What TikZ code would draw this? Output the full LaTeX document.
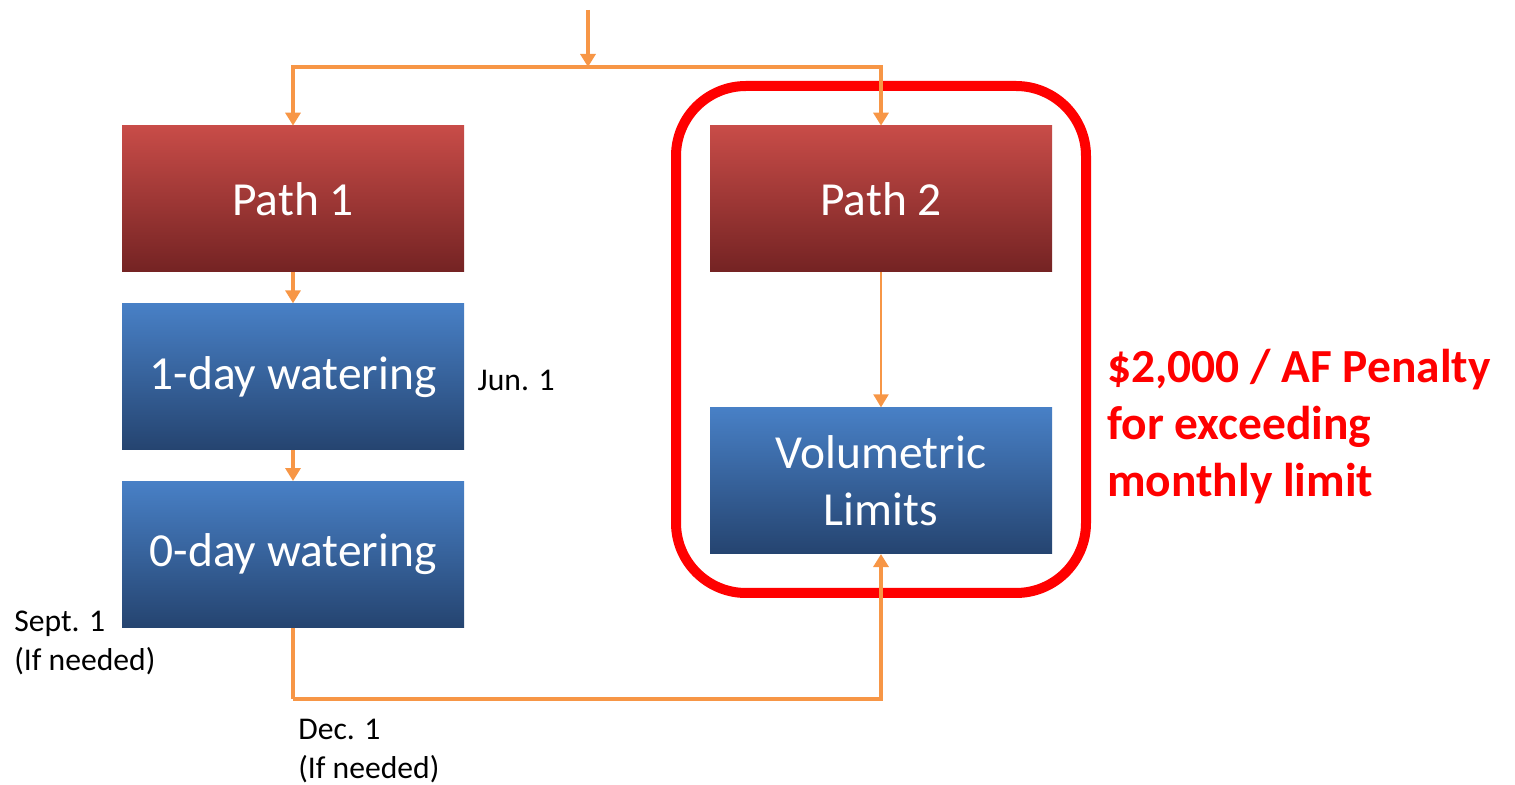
\documentclass[tikz,border=0pt]{standalone}
\usepackage{fontspec}
\setmainfont{Carlito}
\usepackage{tikz}
\usetikzlibrary{arrows.meta,positioning}
\usepackage{xcolor}
\definecolor{pathtop}{RGB}{200,76,72}
\definecolor{pathbot}{RGB}{116,35,35}
\definecolor{stagetop}{RGB}{72,128,198}
\definecolor{stagebot}{RGB}{37,68,112}
\definecolor{flow}{RGB}{247,150,70}
\definecolor{alert}{RGB}{255,0,0}
\tikzstyle{pathbox} = [rectangle, minimum width=6.84cm, minimum height=2.92cm, inner sep=0pt, text centered, align=center, top color=pathtop, bottom color=pathbot, text=white, font=\fontsize{27}{33}\selectfont]
\tikzstyle{stagebox} = [pathbox, top color=stagetop, bottom color=stagebot]
\tikzstyle{note} = [inner sep=0pt, align=left, font=\fontsize{18}{22}\selectfont]
\tikzstyle{arrow} = [line width=1.9pt, -{Triangle[width=0.3cm,length=0.26cm]}, color=flow]
\tikzstyle{line} = [line width=1.9pt, color=flow]

\begin{document}
\begin{tikzpicture}
\useasboundingbox (0,0) rectangle (30.3,15.7);
% Boxes
\node (path1) [pathbox] at (5.86,11.72) {Path 1};
\node (oneday) [stagebox, below=0.62cm of path1] {1-day watering};
\node (zeroday) [stagebox, below=0.62cm of oneday] {0-day watering};
\node (path2) [pathbox] at (17.62,11.72) {Path 2};
\node (vol) [stagebox, below=2.7cm of path2] {Volumetric\\Limits};

% Highlight frame
\draw[alert, line width=0.2cm, rounded corners=1.4cm] (13.52,3.84) rectangle (21.72,13.98);

% Labels
\node (jun) [note, anchor=west, right=0.26cm of oneday, yshift=-0.08cm] {Jun. 1};
\node (sept) [note, anchor=north west] at (0.28,3.48) {Sept. 1\\(If needed)};
\node (dec) [note, anchor=north west] at (5.96,1.32) {Dec. 1\\(If needed)};
\node (penalty) [inner sep=0pt, anchor=west, align=left, text=alert, font=\bfseries\fontsize{27}{32.4}\selectfont] at (22.14,7.16) {\$2,000 / AF Penalty\\for exceeding\\monthly limit};

% Connectors
\coordinate (top) at (11.76,15.5);
\coordinate (split) at (11.76,14.36);
\coordinate (down) at (5.86,1.72);
\draw[arrow] (top) -- (split);
\draw[arrow] (split) -| (path1.north);
\draw[arrow] (split) -| (path2.north);
\draw[arrow] (path1) -- (oneday);
\draw[arrow] (oneday) -- (zeroday);
\draw[arrow, line width=1.3pt] (path2) -- (vol);
\draw[line] (zeroday.south) -- (down);
\draw[arrow] (down) -| (vol.south);
\end{tikzpicture}
\end{document}
